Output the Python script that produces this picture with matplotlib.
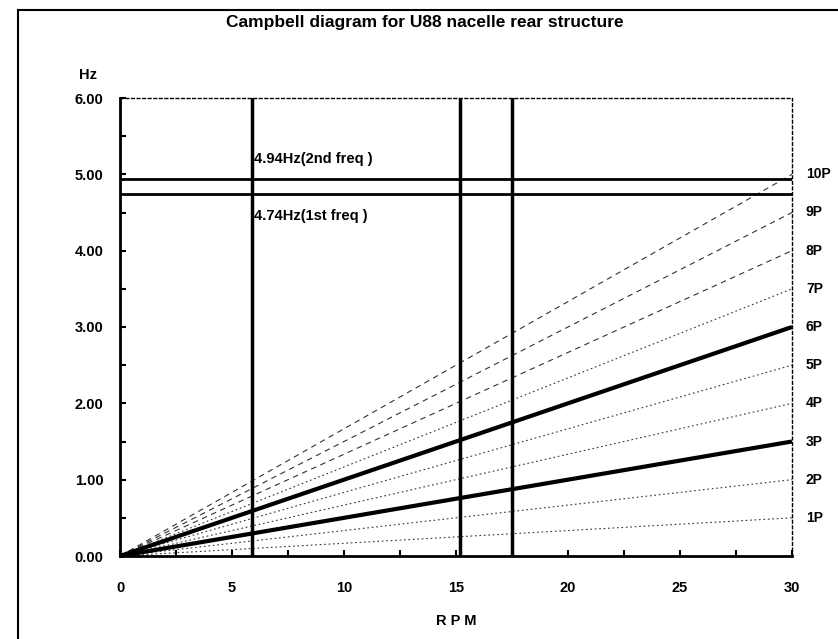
import matplotlib
matplotlib.use("Agg")
import matplotlib.pyplot as plt
from matplotlib.lines import Line2D
from matplotlib.ticker import MultipleLocator, FormatStrFormatter

# --- Data ---
rpm_range = [0, 30]
orders = ["1P", "2P", "3P", "4P", "5P", "6P", "7P", "8P", "9P", "10P"]
freq_at_30rpm = [0.5, 1.0, 1.5, 2.0, 2.5, 3.0, 3.5, 4.0, 4.5, 5.0]
thick_orders = ["3P", "6P"]
dashed_orders = ["8P", "9P", "10P"]
natural_freqs = [4.94, 4.74]
freq_labels = ["4.94Hz(2nd freq )", "4.74Hz(1st freq )"]
rpm_markers = [5.9, 15.2, 17.5]

plt.rcParams["font.family"] = ["Liberation Sans", "DejaVu Sans"]
plt.rcParams["font.weight"] = "bold"

fig = plt.figure(figsize=(8.38, 6.39), dpi=100)
ax = fig.add_axes([120 / 838, 1 - 556 / 639, 672 / 838, 458 / 639])

# --- Order lines ---
for name, f30 in zip(orders, freq_at_30rpm):
    ys = [0, f30]
    if name in thick_orders:
        ax.plot(rpm_range, ys, color="black", lw=3.0, solid_capstyle="butt", zorder=3)
    elif name in dashed_orders:
        ax.plot(rpm_range, ys, color="#333333", lw=0.8, dashes=(5, 4), zorder=2)
    else:
        ax.plot(rpm_range, ys, color="#333333", lw=0.8, dashes=(1.5, 2.5), zorder=2)
    ax.annotate(name, xy=(30, f30), xytext=(10, 0), textcoords="offset points",
                ha="left", va="center", fontsize=10, fontweight="bold",
                annotation_clip=False)

# --- Natural frequencies ---
for f in natural_freqs:
    ax.axhline(f, color="black", lw=2.0, zorder=3)
ax.text(rpm_markers[0] + 0.1, natural_freqs[0] + 0.17, freq_labels[0],
        ha="left", va="bottom", fontsize=10.5, fontweight="bold")
ax.text(rpm_markers[0] + 0.1, natural_freqs[1] - 0.2, freq_labels[1],
        ha="left", va="top", fontsize=10.5, fontweight="bold")

# --- Rotor speed markers ---
for r in rpm_markers:
    ax.axvline(r, color="black", lw=2.5, zorder=3)

ax.set_xlim(0, 30)
ax.set_ylim(0, 6)
ax.xaxis.set_major_locator(MultipleLocator(5))
ax.xaxis.set_minor_locator(MultipleLocator(2.5))
ax.yaxis.set_major_locator(MultipleLocator(1))
ax.yaxis.set_minor_locator(MultipleLocator(0.5))
ax.yaxis.set_major_formatter(FormatStrFormatter("%.2f"))
ax.tick_params(which="both", direction="in", length=4, width=1.5, labelsize=10.5)
ax.tick_params(axis="y", pad=12)
ax.tick_params(axis="x", pad=18)
for lab in ax.get_xticklabels() + ax.get_yticklabels():
    lab.set_fontweight("bold")

ax.spines["left"].set_linewidth(2.0)
ax.spines["bottom"].set_linewidth(2.0)
for s in ("top", "right"):
    ax.spines[s].set_linewidth(1.0)
    ax.spines[s].set_linestyle((0, (2, 2)))

ax.set_xlabel("R P M", fontsize=10.5, fontweight="bold", labelpad=14)
fig.text(88 / 838, 1 - 75 / 639, "Hz", ha="center", va="center", fontsize=10.5, fontweight="bold")
fig.text(425 / 838, 1 - 22 / 639, "Campbell diagram for U88 nacelle rear structure",
         ha="center", va="center", fontsize=12.5, fontweight="bold")

# outer frame (left and top edges visible in the scan)
fig.add_artist(Line2D([18 / 838, 18 / 838], [0, 1 - 10 / 639], transform=fig.transFigure,
                      color="black", lw=1.5))
fig.add_artist(Line2D([18 / 838, 1], [1 - 10 / 639, 1 - 10 / 639], transform=fig.transFigure,
                      color="black", lw=1.5))

fig.savefig("out.png", dpi=100)
